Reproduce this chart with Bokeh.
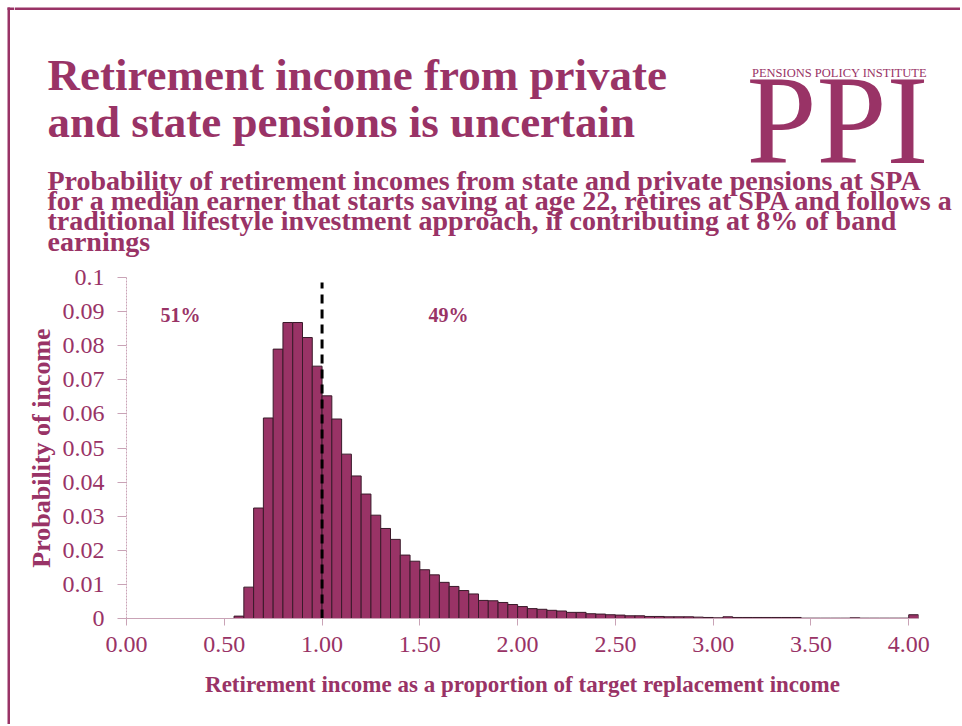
from bokeh.plotting import figure
from bokeh.models import Range1d, FixedTicker, Label, BoxAnnotation, ColumnDataSource
from bokeh.layouts import column, row
from bokeh.embed import file_html
from bokeh.resources import INLINE

PLUM = "#993366"
FONT = "Liberation Serif"

# ---- data ----
bin_start = [0.55, 0.60, 0.65, 0.70, 0.75, 0.80, 0.85, 0.90, 0.95,
             1.00, 1.05, 1.10, 1.15, 1.20, 1.25, 1.30, 1.35, 1.40, 1.45,
             1.50, 1.55, 1.60, 1.65, 1.70, 1.75, 1.80, 1.85, 1.90, 1.95,
             2.00, 2.05, 2.10, 2.15, 2.20, 2.25, 2.30, 2.35, 2.40, 2.45,
             2.50, 2.55, 2.60, 2.65, 2.70, 2.75, 2.80, 2.85, 2.90, 2.95,
             3.00, 3.05, 3.10, 3.15, 3.20, 3.25, 3.30, 3.35, 3.40, 3.45,
             3.50, 3.55, 3.60, 3.65, 3.70, 3.75, 3.80, 3.85, 3.90, 3.95,
             4.00]
probability = [0.0007, 0.0092, 0.0324, 0.0588, 0.0790, 0.0868, 0.0868, 0.0824, 0.0740,
               0.0653, 0.0585, 0.0482, 0.0418, 0.0365, 0.0303, 0.0264, 0.0232, 0.0186, 0.0168,
               0.0143, 0.0128, 0.0106, 0.0094, 0.0082, 0.0072, 0.0053, 0.0052, 0.0047, 0.0041,
               0.0035, 0.0029, 0.0027, 0.0024, 0.0022, 0.0018, 0.0018, 0.0014, 0.0013, 0.0011,
               0.0010, 0.0008, 0.0008, 0.0006, 0.0006, 0.0005, 0.0005, 0.0005, 0.0004, 0.0003,
               0.0002, 0.0005, 0.0003, 0.0003, 0.0003, 0.0003, 0.0003, 0.0003, 0.0003, 0.0001,
               0.0001, 0.0001, 0.0001, 0.0001, 0.0002, 0.0001, 0.0001, 0.0001, 0.0001, 0.0001,
               0.0011]
bin_width = 0.05
split_at = 1.0
share_left = "51%"
share_right = "49%"

x_ticks = [0.0, 0.5, 1.0, 1.5, 2.0, 2.5, 3.0, 3.5, 4.0]
x_tick_labels = ["0.00", "0.50", "1.00", "1.50", "2.00", "2.50", "3.00", "3.50", "4.00"]
y_ticks = [0.0, 0.01, 0.02, 0.03, 0.04, 0.05, 0.06, 0.07, 0.08, 0.09, 0.1]
y_tick_labels = ["0", "0.01", "0.02", "0.03", "0.04", "0.05", "0.06", "0.07", "0.08", "0.09", "0.1"]

title_lines = ["Retirement income from private", "and state pensions is uncertain"]
subtitle_lines = [
    "Probability of retirement incomes from state and private pensions at SPA",
    "for a median earner that starts saving at age 22, retires at SPA and follows a",
    "traditional lifestyle investment approach, if contributing at 8% of band",
    "earnings",
]
logo_small = "PENSIONS POLICY INSTITUTE"
logo_big = "PPI"
x_label = "Retirement income as a proportion of target replacement income"
y_label = "Probability of income"

# ---- layout sizes ----
TOTAL_W, TOTAL_H = 960, 724
HEAD_H = 262
STRIP_W = 14
RIGHT_W = TOTAL_W - STRIP_W
CHART_H = TOTAL_H - HEAD_H
BASE_K = 0.34  # label anchor vs. alphabetic baseline, in em


def blank_fig(x0, x1, h):
    f = figure(width=x1 - x0, height=h, output_backend="svg", toolbar_location=None,
               x_range=Range1d(x0, x1), y_range=Range1d(h, 0),
               x_axis_location=None, y_axis_location=None,
               min_border_left=0, min_border_right=0,
               min_border_top=0, min_border_bottom=0, title=None)
    f.outline_line_color = None
    f.xgrid.visible = False
    f.ygrid.visible = False
    f.border_fill_color = "white"
    f.background_fill_color = "white"
    f.frame_align = False
    return f


def add_text(fig, text, x, baseline, size, bold=False, align="left", units="data"):
    y = baseline - BASE_K * size
    fig.add_layout(Label(x=x, y=y, x_units=units, y_units=units, text=text,
                         text_font=FONT, text_font_size=f"{size}px",
                         text_font_style="bold" if bold else "normal",
                         text_color=PLUM, text_align=align, text_baseline="alphabetic"))


def frame_line(fig, left, right, top, bottom):
    fig.add_layout(BoxAnnotation(left=left, right=right, top=top, bottom=bottom,
                                 fill_color=PLUM, fill_alpha=1, line_color=None))


# ---- left strip: full-height frame line ----
strip = blank_fig(0, STRIP_W, TOTAL_H)
frame_line(strip, 7, 9.5, 7, TOTAL_H)
frame_line(strip, 7, STRIP_W, 7, 9.5)

# ---- header: title, subtitle, logo, top frame line (page pixel coordinates) ----
head = blank_fig(STRIP_W, TOTAL_W, HEAD_H)
frame_line(head, STRIP_W, TOTAL_W, 7, 9.5)
add_text(head, logo_small, 839, 77, 12.5, align="center")
add_text(head, logo_big, 837, 163, 126, align="center")
add_text(head, title_lines[0], 47, 90, 45, bold=True)
add_text(head, title_lines[1], 47, 137, 45, bold=True)
for line, yb in zip(subtitle_lines, [190, 210, 230, 251]):
    add_text(head, line, 47, yb, 28, bold=True)

# ---- chart ----
p = figure(width=RIGHT_W, height=CHART_H, output_backend="svg", toolbar_location=None,
           x_range=Range1d(0, 4.05), y_range=Range1d(0, 0.1), title=None,
           min_border_left=112, min_border_right=42,
           min_border_top=15, min_border_bottom=106)
p.frame_align = False
p.outline_line_color = None
p.xgrid.visible = False
p.ygrid.visible = False
p.background_fill_color = "white"
p.border_fill_color = "white"

src = ColumnDataSource(dict(left=bin_start,
                            right=[b + bin_width for b in bin_start],
                            top=probability))
p.quad(left="left", right="right", bottom=0, top="top", source=src,
       fill_color=PLUM, line_color="#3a1a2a", line_width=1)

p.segment(x0=[split_at], y0=[0], x1=[split_at], y1=[0.0985],
          line_color="black", line_width=3, line_dash="9 6")

AX = "#c9a3b6"
xa = p.xaxis[0]
xa.ticker = FixedTicker(ticks=x_ticks)
xa.major_label_overrides = {t: l for t, l in zip(x_ticks, x_tick_labels)}
xa.minor_tick_line_color = None
xa.major_tick_in = 0
xa.major_tick_out = 7
xa.axis_line_color = AX
xa.major_tick_line_color = AX
xa.major_label_text_font = FONT
xa.major_label_text_font_size = "24px"
xa.major_label_text_color = PLUM
xa.major_label_standoff = 11
xa.axis_label = x_label
xa.axis_label_text_font = FONT
xa.axis_label_text_font_size = "23px"
xa.axis_label_text_font_style = "bold"
xa.axis_label_text_color = PLUM
xa.axis_label_standoff = 17

ya = p.yaxis[0]
ya.ticker = FixedTicker(ticks=y_ticks)
ya.major_label_overrides = {t: l for t, l in zip(y_ticks, y_tick_labels)}
ya.minor_tick_line_color = None
ya.major_tick_in = 0
ya.major_tick_out = 9
ya.axis_line_color = AX
ya.axis_line_dash = "2 1"
ya.major_tick_line_color = AX
ya.major_label_text_font = FONT
ya.major_label_text_font_size = "24px"
ya.major_label_text_color = PLUM
ya.major_label_standoff = 13
ya.axis_label = y_label
ya.axis_label_text_font = FONT
ya.axis_label_text_font_size = "26px"
ya.axis_label_text_font_style = "bold"
ya.axis_label_text_color = PLUM
ya.axis_label_standoff = 4

# share annotations (chart canvas pixels)
add_text(p, share_left, 146, 59, 20, bold=True, units="canvas")
add_text(p, share_right, 414, 59, 20, bold=True, units="canvas")

layout = row(strip, column(head, p))
open("out.html", "w").write(file_html(layout, INLINE))
